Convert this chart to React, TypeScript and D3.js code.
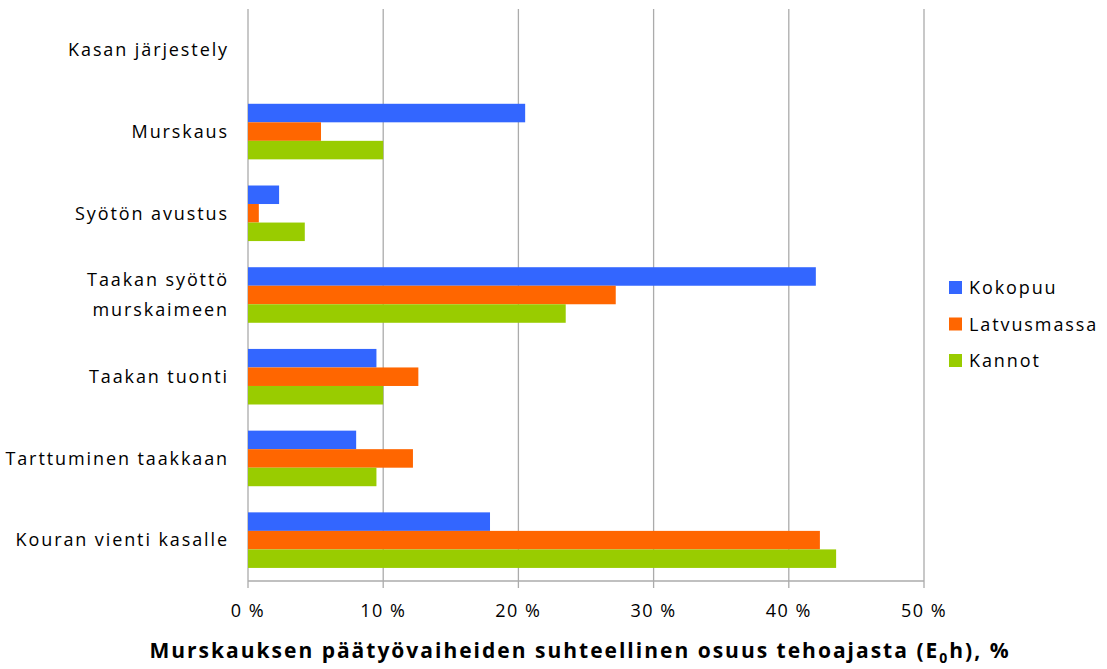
import React from "react";
import * as d3 from "d3";

const categories = [
  "Kasan järjestely",
  "Murskaus",
  "Syötön avustus",
  "Taakan syöttö\nmurskaimeen",
  "Taakan tuonti",
  "Tarttuminen taakkaan",
  "Kouran vienti kasalle",
];
const seriesNames = ["Kokopuu", "Latvusmassa", "Kannot"];
const kokopuu = [0, 20.5, 2.3, 42.0, 9.5, 8.0, 17.9];
const latvusmassa = [0, 5.4, 0.8, 27.2, 12.6, 12.2, 42.3];
const kannot = [0, 10.0, 4.2, 23.5, 10.0, 9.5, 43.5];
const xTicks = [0, 10, 20, 30, 40, 50];
const colors = ["#3366FF", "#FF6600", "#99CC00"];

const W = 1107;
const H = 669;
const left = 248;
const right = 924;
const top = 9;
const bottom = 581;
const FONT = "'Open Sans', 'Noto Sans', sans-serif";

export default function App() {
  const values = [kokopuu, latvusmassa, kannot];
  const x = d3.scaleLinear().domain([0, 50]).range([left, right]);
  const y = d3.scaleBand<string>().domain(categories).range([top, bottom]).paddingInner(0.32).paddingOuter(0.16);
  const inner = d3.scaleBand<string>().domain(seriesNames).range([0, y.bandwidth()]);

  return (
    <svg width={W} height={H} style={{ position: "absolute", left: 0, top: 0, background: "#fff" }}>
      {xTicks.map((t) => (
        <line key={"g" + t} x1={x(t)} x2={x(t)} y1={top} y2={bottom + 7} stroke="#ababab" strokeWidth={1.3} />
      ))}
      <line x1={left} x2={right} y1={bottom} y2={bottom} stroke="#ababab" strokeWidth={1.3} />
      {categories.map((c, i) => (
        <g key={c}>
          {seriesNames.map((s, j) => (
            <rect
              key={s}
              x={x(0)}
              y={(y(c) as number) + (inner(s) as number)}
              width={x(values[j][i]) - x(0)}
              height={inner.bandwidth()}
              fill={colors[j]}
            />
          ))}
        </g>
      ))}
      {categories.map((c) => {
        const lines = c.split("\n");
        const cy = (y(c) as number) + y.bandwidth() / 2;
        return (
          <text key={"l" + c} x={229} y={cy} textAnchor="end" fontFamily={FONT} fontSize={18} letterSpacing={1.9} fill="#000">
            {lines.map((ln, k) => (
              <tspan key={k} x={229} y={cy + (k - (lines.length - 1) / 2) * 30} dy="0.35em">
                {ln}
              </tspan>
            ))}
          </text>
        );
      })}
      {xTicks.map((t) => (
        <text key={"t" + t} x={x(t)} y={611} dy="0.35em" textAnchor="middle" fontFamily={FONT} fontSize={18} letterSpacing={1.5} fill="#000">
          {t + " %"}
        </text>
      ))}
      {seriesNames.map((s, j) => (
        <g key={"lg" + s}>
          <rect x={949} y={281 + j * 36.5} width={13} height={13} fill={colors[j]} />
          <text x={969} y={288 + j * 36.5} dy="0.35em" fontFamily={FONT} fontSize={18} letterSpacing={1.9} fill="#000">
            {s}
          </text>
        </g>
      ))}
      <text x={580} y={651} dy="0.35em" textAnchor="middle" fontFamily={FONT} fontSize={21} fontWeight="bold" letterSpacing={2} fill="#000">
        Murskauksen päätyövaiheiden suhteellinen osuus tehoajasta (E
        <tspan fontSize={14} dy="5">0</tspan>
        <tspan dy="-5">h), %</tspan>
      </text>
    </svg>
  );
}
